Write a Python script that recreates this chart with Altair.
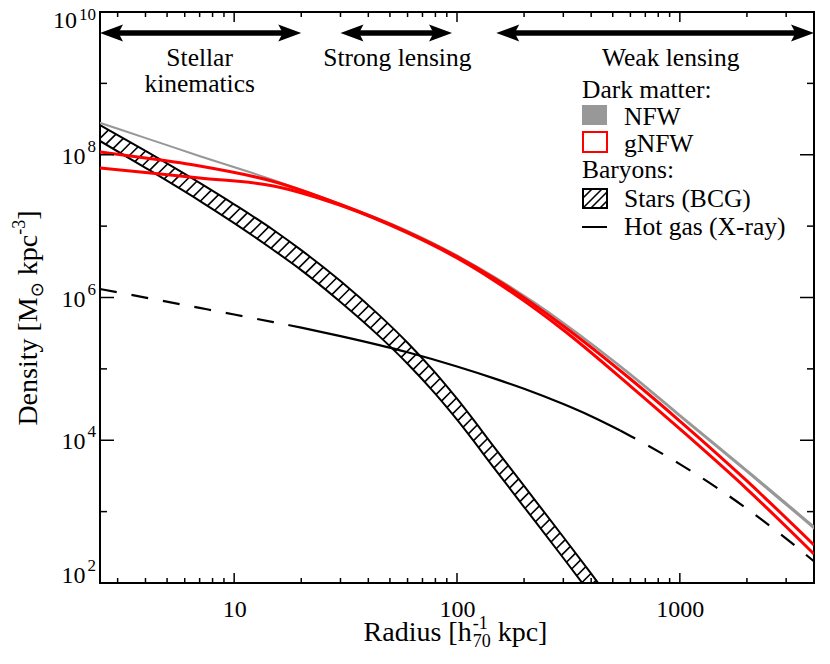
import numpy as np
import pandas as pd
import altair as alt

# ---------------- values ----------------
radius = [2.5, 4, 7, 15, 30, 60, 100, 150, 300, 600, 1000, 2000, 4000]
nfw_hi = [2.89e8, 1.78e8, 9.93e7, 4.59e7, 2.11e7, 8.87e6, 4.02e6, 1.95e6, 4.62e5, 8.81e4, 2.36e4, 3.97e3, 644]
nfw_lo = [2.70e8, 1.66e8, 9.26e7, 4.28e7, 1.97e7, 8.24e6, 3.72e6, 1.79e6, 4.19e5, 7.89e4, 2.09e4, 3.47e3, 559]
gnfw_hi = [1.09e8, 9.0e7, 6.95e7, 4.22e7, 2.01e7, 8.27e6, 3.75e6, 1.79e6, 3.99e5, 7.21e4, 1.86e4, 2.69e3, 341]
gnfw_lo = [6.52e7, 5.64e7, 4.72e7, 3.65e7, 1.95e7, 8.01e6, 3.57e6, 1.65e6, 3.51e5, 5.75e4, 1.44e4, 2.07e3, 255]

star_r = [2.5, 4, 7, 10, 15, 20, 30, 45, 60, 80, 100, 150, 200, 300, 400, 500]
star_hi = [2.61e8, 1.13e8, 4.03e7, 2.02e7, 8.83e6, 4.61e6, 1.70e6, 5.57e5, 2.32e5, 8.79e4, 3.82e4, 7.35e3, 2.29e3, 441, 135, 53.3]
star_lo = [1.56e8, 6.55e7, 2.26e7, 1.10e7, 4.63e6, 2.42e6, 8.65e5, 2.83e5, 1.18e5, 4.46e4, 1.94e4, 3.73e3, 1.16e3, 224, 68.6, 27.1]

gas_r = [2.5, 4, 7, 10, 15, 17.5, 20, 30, 60, 100, 150, 200, 300, 400, 540, 600, 1000, 1500, 2000, 3000, 4000]
gas_rho = [1.315e6, 9.97e5, 7.15e5, 5.78e5, 4.52e5, 4.12e5, 3.78e5, 2.88e5, 1.71e5, 1.08e5, 7.19e4, 5.26e4,
           3.21e4, 2.17e4, 1.37e4, 1.15e4, 4.63e3, 2.06e3, 1.10e3, 419, 201]
gas_solid_range = [17.5, 540]

range_names = ["Stellar|kinematics", "Strong lensing", "Weak lensing"]
range_from = [2.5, 30, 150]
range_to = [20, 95, 4000]
range_label_r = [7, 54, 910]

x_major = [10, 100, 1000]
x_minor = [3, 4, 5, 6, 7, 8, 9, 20, 30, 40, 50, 60, 70, 80, 90,
           200, 300, 400, 500, 600, 700, 800, 900, 2000, 3000]
y_major_exp = [2, 4, 6, 8, 10]
y_minor_exp = [3, 5, 7, 9]
y_label_pos = [10 ** 2.126, 1e4, 1e6, 1e8, 10 ** 9.902]

# ---------------- layout / style ----------------
W, H = 714, 571
FONT = "Liberation Serif"
GRAY = "#989898"
RED = "#ff0000"
XDOM = [2.5, 4000]
YDOM = [1e2, 1e10]

xscale = alt.Scale(type="log", domain=XDOM, nice=False)
yscale = alt.Scale(type="log", domain=YDOM, nice=False)
xaxis = alt.Axis(values=x_major, format="d", ticks=False, tickSize=0, domain=False, grid=False,
                 labelFont=FONT, labelFontSize=24, labelPadding=14, labelColor="black",
                 title=None, labelOverlap=False)


def X(f):
    return alt.X(f, type="quantitative", scale=xscale, axis=xaxis)


def Y(f):
    return alt.Y(f, type="quantitative", scale=yscale, axis=None)


one = pd.DataFrame({"k": [0]})
layers = []

# ---------------- stars (BCG) hatched band ----------------
df_star = pd.DataFrame({"r": star_r, "hi": star_hi, "lo": star_lo})

LX0, LX1 = np.log10(XDOM[0]), np.log10(XDOM[1])
LY0, LY1 = np.log10(YDOM[0]), np.log10(YDOM[1])
SX = W / (LX1 - LX0)
SY = H / (LY1 - LY0)


def px_of(r):
    return (np.log10(r) - LX0) * SX


def py_of(v):
    return (LY1 - np.log10(v)) * SY


def r_of(px):
    return 10 ** (LX0 + px / SX)


def v_of(py):
    return 10 ** (LY1 - py / SY)


P = px_of(np.array(star_r, float))
U = py_of(np.array(star_hi, float))
L = py_of(np.array(star_lo, float))
pdense = np.linspace(P[0], P[-1], 4000)
Cd = (np.interp(pdense, P, U) + np.interp(pdense, P, L)) / 2
s = np.concatenate([[0], np.cumsum(np.hypot(np.diff(pdense), np.diff(Cd)))])
hatch = []
tt = np.linspace(0, 40, 4001)
for sk in np.arange(4.0, s[-1], 8.5):
    p0 = np.interp(sk, s, pdense)
    c0 = np.interp(sk, s, Cd)
    fu = (c0 - tt) - np.interp(p0 + tt, P, U)
    tu = tt[np.argmax(fu <= 0)]
    fl = (c0 + tt) - np.interp(p0 - tt, P, L)
    tl = tt[np.argmax(fl >= 0)]
    hatch.append(dict(r1=r_of(p0 - tl), y1=v_of(c0 + tl), r2=r_of(p0 + tu), y2=v_of(c0 - tu)))
df_hatch = pd.DataFrame(hatch)

layers.append(alt.Chart(df_hatch).mark_rule(color="black", strokeWidth=1.6, clip=True).encode(
    x=X("r1"), y=Y("y1"), x2="r2", y2="y2"))
for col in ["hi", "lo"]:
    layers.append(alt.Chart(df_star).mark_line(color="black", strokeWidth=2, clip=True,
                                                interpolate="monotone").encode(x=X("r"), y=Y(col)))

# ---------------- NFW (grey band) ----------------
df_dm = pd.DataFrame({"r": radius, "nhi": nfw_hi, "nlo": nfw_lo, "ghi": gnfw_hi, "glo": gnfw_lo})
layers.append(alt.Chart(df_dm).mark_area(color=GRAY, opacity=1, clip=True, interpolate="monotone").encode(
    x=X("r"), y=Y("nhi"), y2="nlo"))

# ---------------- gNFW (red outline band) ----------------
for col in ["ghi", "glo"]:
    layers.append(alt.Chart(df_dm).mark_line(color=RED, strokeWidth=3, clip=True,
                                              interpolate="monotone").encode(x=X("r"), y=Y(col)))

# ---------------- hot gas ----------------
rows = []
for r, v in zip(gas_r, gas_rho):
    if r <= gas_solid_range[0]:
        rows.append((r, v, "inner"))
    if gas_solid_range[0] <= r <= gas_solid_range[1]:
        rows.append((r, v, "solid"))
    if r >= gas_solid_range[1]:
        rows.append((r, v, "outer"))
df_gas = pd.DataFrame(rows, columns=["r", "rho", "seg"])
layers.append(alt.Chart(df_gas).transform_filter("datum.seg == 'solid'").mark_line(
    color="black", strokeWidth=2.2, clip=True, interpolate="monotone").encode(x=X("r"), y=Y("rho")))
layers.append(alt.Chart(df_gas).transform_filter("datum.seg != 'solid'").mark_line(
    color="black", strokeWidth=2.2, clip=True, interpolate="monotone", strokeDash=[17, 15]).encode(
    x=X("r"), y=Y("rho"), detail="seg:N"))

# ---------------- inward tick marks ----------------
df_xmaj = pd.DataFrame({"v": x_major})
df_xmin = pd.DataFrame({"v": x_minor})
for df_t, ln in [(df_xmaj, 10), (df_xmin, 5)]:
    layers.append(alt.Chart(df_t).mark_rule(color="black", strokeWidth=1.5).encode(
        x=X("v"), y=alt.value(H), y2=alt.value(H - ln)))
    layers.append(alt.Chart(df_t).mark_rule(color="black", strokeWidth=1.5).encode(
        x=X("v"), y=alt.value(0), y2=alt.value(ln)))
df_ymaj = pd.DataFrame({"v": [10.0 ** e for e in y_major_exp]})
df_ymin = pd.DataFrame({"v": [10.0 ** e for e in y_minor_exp]})
for df_t, ln in [(df_ymaj, 14), (df_ymin, 7)]:
    layers.append(alt.Chart(df_t).mark_rule(color="black", strokeWidth=1.5).encode(
        y=Y("v"), x=alt.value(0), x2=alt.value(ln)))
    layers.append(alt.Chart(df_t).mark_rule(color="black", strokeWidth=1.5).encode(
        y=Y("v"), x=alt.value(W), x2=alt.value(W - ln)))

# ---------------- y tick labels: 10 with superscript exponent ----------------
df_ylab = pd.DataFrame({"pos": y_label_pos, "e": [str(e) for e in y_major_exp]})
for n, bx in [(1, -14.5), (2, -23)]:
    layers.append(alt.Chart(df_ylab).transform_filter(f"length(datum.e) == {n}").mark_text(
        font=FONT, fontSize=24, align="right", baseline="alphabetic", dy=9, color="black").encode(
        y=Y("pos"), x=alt.value(bx), text=alt.value("10")))
for n, ddy in [(1, -3), (2, 1)]:
    layers.append(alt.Chart(df_ylab).transform_filter(f"length(datum.e) == {n}").mark_text(
        font=FONT, fontSize=17, align="right", baseline="alphabetic", dy=ddy, color="black").encode(
        y=Y("pos"), x=alt.value(-4), text="e:N"))

# ---------------- axis titles built from pieces (sub/superscripts) ----------------
WT = {' ': 0.25, '[': 0.333, ']': 0.333, 'D': 0.722, 'e': 0.444, 'n': 0.5, 's': 0.389, 'i': 0.278,
      't': 0.278, 'y': 0.5, 'M': 0.889, 'k': 0.5, 'p': 0.5, 'c': 0.444, 'R': 0.667, 'a': 0.444,
      'd': 0.5, 'u': 0.5, 'h': 0.5, '0': 0.5, '1': 0.5, '3': 0.5, '7': 0.5, '-': 0.333}


def tw(txt, size):
    return sum(WT[c] for c in txt) * size


T, S = 28, 18


def piece(txt, x, y, size, angle=0, font=FONT):
    return alt.Chart(one).mark_text(font=font, fontSize=size, align="left", baseline="alphabetic",
                                    angle=angle, color="black").encode(
        x=alt.value(x), y=alt.value(y), text=alt.value(txt))


# x title
sub_w = max(tw("70", S), tw("-1", S))
xw = tw("Radius [h", T) + sub_w + tw(" kpc]", T)
x0 = W / 2 - 2 - xw / 2
xb = 629
layers.append(piece("Radius [h", x0, xb, T))
x1 = x0 + tw("Radius [h", T) + 1
layers.append(piece("70", x1, xb + 6, S))
layers.append(piece("-1", x1, xb - 12, S))
layers.append(piece("kpc]", x1 + sub_w + tw(" ", T), xb, T))

# y title (rotated, reads bottom to top)
yb = -63
sun_w = 0.84 * S
yw = tw("Density [M", T) + sun_w + tw(" kpc", T) + tw("-3", S) + tw("]", T)
y0 = 306 + yw / 2
layers.append(piece("Density [M", yb, y0, T, 270))
y1 = y0 - tw("Density [M", T)
layers.append(piece("\u2299", yb + 6, y1, S, 270, "DejaVu Sans"))
y2 = y1 - sun_w - tw(" ", T)
layers.append(piece("kpc", yb, y2, T, 270))
y3 = y2 - tw("kpc", T)
layers.append(piece("-3", yb - 12, y3, S, 270))
y4 = y3 - tw("-3", S)
layers.append(piece("]", yb, y4, T, 270))

# ---------------- range arrows and labels ----------------
df_rng = pd.DataFrame({"a": range_from, "b": range_to, "lab": range_names, "rl": range_label_r})
AY = 21
layers.append(alt.Chart(df_rng).mark_rule(color="black", strokeWidth=5.5, xOffset=14, x2Offset=-14).encode(
    x=X("a"), x2="b", y=alt.value(AY)))
LEFT_HEAD = "M0,0L2.3,-0.85L1.85,0L2.3,0.85Z"
RIGHT_HEAD = "M0,0L-2.3,-0.85L-1.85,0L-2.3,0.85Z"
for col, shp in [("a", LEFT_HEAD), ("b", RIGHT_HEAD)]:
    layers.append(alt.Chart(df_rng).mark_point(shape=shp, size=400, filled=True, color="black",
                                               opacity=1, strokeWidth=0).encode(x=X(col), y=alt.value(AY)))
df_lab = df_rng.assign(l1=[t.split("|")[0] for t in range_names],
                       l2=[t.split("|")[1] if "|" in t else "" for t in range_names])
layers.append(alt.Chart(df_lab).mark_text(font=FONT, fontSize=25.5, align="center", baseline="alphabetic",
                                          color="black").encode(x=X("rl"), y=alt.value(54), text="l1:N"))
layers.append(alt.Chart(df_lab).mark_text(font=FONT, fontSize=25.5, align="center", baseline="alphabetic",
                                          color="black").encode(x=X("rl"), y=alt.value(80), text="l2:N"))

# ---------------- legend ----------------
LX, LT = 482, 524
LF = 25.5


def ltext(txt, x, y):
    return alt.Chart(one).mark_text(font=FONT, fontSize=LF, align="left", baseline="alphabetic",
                                    color="black").encode(x=alt.value(x), y=alt.value(y), text=alt.value(txt))


layers.append(ltext("Dark matter:", LX, 86))
layers.append(alt.Chart(one).mark_rect(color=GRAY).encode(
    x=alt.value(LX), x2=alt.value(LX + 25), y=alt.value(93), y2=alt.value(113)))
layers.append(ltext("NFW", LT, 113))
layers.append(alt.Chart(one).mark_rect(fill="white", fillOpacity=0, stroke=RED, strokeWidth=2).encode(
    x=alt.value(LX + 1), x2=alt.value(LX + 25), y=alt.value(120), y2=alt.value(140)))
layers.append(ltext("gNFW", LT, 140))
layers.append(ltext("Baryons:", LX, 166))
layers.append(alt.Chart(one).mark_rect(fill="white", fillOpacity=0, stroke="black", strokeWidth=2).encode(
    x=alt.value(LX + 1), x2=alt.value(LX + 25), y=alt.value(177), y2=alt.value(196)))
for (ax, ay, bx, by) in [(LX + 1, 186, LX + 10, 177), (LX + 1, 196, LX + 20, 177),
                         (LX + 9, 196, LX + 25, 180), (LX + 18, 196, LX + 25, 189)]:
    layers.append(alt.Chart(one).mark_rule(color="black", strokeWidth=1.6).encode(
        x=alt.value(ax), y=alt.value(ay), x2=alt.value(bx), y2=alt.value(by)))
layers.append(ltext("Stars (BCG)", LT, 195))
layers.append(alt.Chart(one).mark_rule(color="black", strokeWidth=2).encode(
    x=alt.value(LX), x2=alt.value(LX + 25), y=alt.value(215)))
layers.append(ltext("Hot gas (X-ray)", LT, 223))

chart = alt.layer(*layers).properties(
    width=W, height=H,
    autosize=alt.AutoSizeParams(type="none"),
    padding={"left": 92, "top": 4, "right": 8, "bottom": 70},
).configure_view(stroke="black", strokeWidth=2).configure_axis(grid=False)

chart.save("out.html", embed_options={"renderer": "svg", "actions": False})
